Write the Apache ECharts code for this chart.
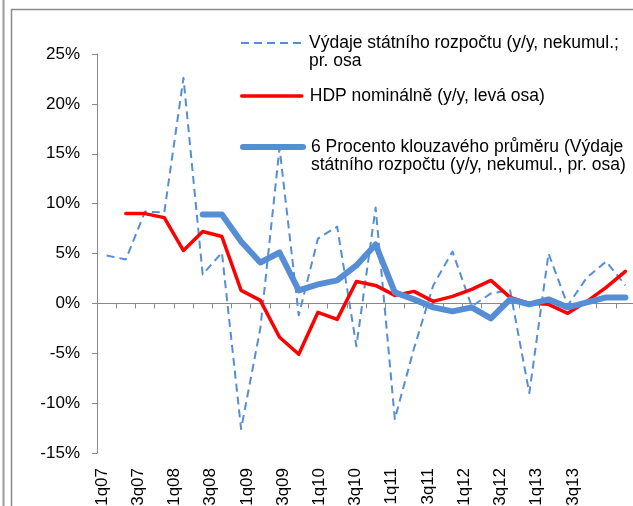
<!DOCTYPE html>
<html>
<head>
<meta charset="utf-8">
<script src="https://cdn.jsdelivr.net/npm/echarts@6.0.0/dist/echarts.min.js"></script>
<style>
  html, body { margin: 0; padding: 0; background: #fff; }
  #chart { width: 633px; height: 506px; }
</style>
</head>
<body>
<div id="chart"></div>
<script>
// quarters 1q07 .. 4q13
const quarters = [
  '1q07', '2q07', '3q07', '4q07', '1q08', '2q08', '3q08', '4q08',
  '1q09', '2q09', '3q09', '4q09', '1q10', '2q10', '3q10', '4q10',
  '1q11', '2q11', '3q11', '4q11', '1q12', '2q12', '3q12', '4q12',
  '1q13', '2q13', '3q13', '4q13'
];

// Výdaje státního rozpočtu, y/y %
const vydaje = [
  4.8, 4.4, 9.2, 9.1, 22.6, 2.9, 5.1, -12.6,
  -2.5, 15.6, -1.2, 6.5, 7.7, -4.3, 9.6, -11.6,
  -4.5, 1.8, 5.2, -0.3, 1.0, 1.3, -9.0, 5.0,
  -0.2, 2.6, 4.2, 1.8
];

// HDP nominálně, y/y %
const hdp = [
  null, 9.0, 9.0, 8.6, 5.3, 7.2, 6.7, 1.3,
  0.3, -3.4, -5.1, -0.9, -1.6, 2.2, 1.8, 0.8,
  1.2, 0.2, 0.7, 1.4, 2.3, 0.6, 0.0, -0.1,
  -1.0, 0.2, 1.6, 3.2
];

// 6-period moving average as drawn
const klouzavy = [
  null, null, null, null, null, 8.9, 8.9, 6.2,
  4.1, 5.1, 1.3, 1.9, 2.3, 3.8, 5.9, 1.1,
  0.4, -0.4, -0.8, -0.4, -1.5, 0.4, -0.1, 0.4,
  -0.4, 0.1, 0.6, 0.6
];

const names = [
  'Výdaje státního rozpočtu (y/y, nekumul.; pr. osa',
  'HDP nominálně (y/y, levá osa)',
  '6 Procento klouzavého průměru (Výdaje státního rozpočtu (y/y, nekumul., pr. osa)'
];
// blank first line keeps the icon level with the first text line
const legendText = [
  ' \nVýdaje státního rozpočtu (y/y, nekumul.;\npr. osa',
  'HDP nominálně (y/y, levá osa)',
  ' \n6 Procento klouzavého průměru (Výdaje\nstátního rozpočtu (y/y, nekumul., pr. osa)'
];

const blue = '#558ED5';
const red = '#FF0000';
const axisGray = '#888888';
const font = 'Arial, "Liberation Sans", sans-serif';

const chart = echarts.init(document.getElementById('chart'));

function makeLegend(i, top, lineStyle) {
  return {
    orient: 'vertical',
    left: 240,
    top: top,
    padding: 0,
    itemWidth: 60,
    itemHeight: 12,
    selectedMode: false,
    formatter: (n) => legendText[names.indexOf(n)],
    itemStyle: { opacity: 0 },
    textStyle: {
      fontFamily: font, fontSize: 17.5, lineHeight: 18, color: '#000',
      padding: [0, 0, 0, 3]
    },
    data: [{ name: names[i], lineStyle: lineStyle }]
  };
}

const option = {
  animation: false,
  backgroundColor: '#fff',
  grid: [
    { left: 97, top: 54, width: 538, height: 399, containLabel: false, outerBoundsMode: 'none' },
    { left: 93, top: 54, width: 507, height: 406, containLabel: false, outerBoundsMode: 'none' }
  ],
  legend: [
    makeLegend(0, 16, { color: blue, width: 2, type: [8, 5] }),
    makeLegend(1, 87, { color: red, width: 3.5, type: 'solid' }),
    makeLegend(2, 120, { color: blue, width: 6, type: 'solid' })
  ],
  xAxis: [
    {
      type: 'category',
      gridIndex: 0,
      data: quarters,
      boundaryGap: true,
      axisLine: { onZero: true, lineStyle: { color: axisGray, width: 1 } },
      axisTick: { show: true, inside: false, length: 5, interval: 0, lineStyle: { color: axisGray } },
      axisLabel: { show: false },
      splitLine: { show: false }
    },
    {
      type: 'category',
      gridIndex: 1,
      data: quarters,
      boundaryGap: true,
      axisLine: { show: false },
      axisTick: { show: false },
      axisLabel: {
        interval: 1, rotate: 90, margin: 8,
        fontFamily: font, fontSize: 17, color: '#000'
      },
      splitLine: { show: false }
    }
  ],
  yAxis: [
    {
      type: 'value',
      gridIndex: 0,
      min: -15,
      max: 25,
      interval: 5,
      axisLine: { show: true, lineStyle: { color: axisGray, width: 1 } },
      axisTick: { show: true, inside: false, length: 5, lineStyle: { color: axisGray } },
      axisLabel: { formatter: '{value}%', margin: 17, fontFamily: font, fontSize: 17, color: '#000' },
      splitLine: { show: false }
    },
    { type: 'value', gridIndex: 1, show: false, min: 0, max: 1 }
  ],
  series: [
    {
      name: names[0],
      type: 'line',
      xAxisIndex: 0, yAxisIndex: 0,
      data: vydaje,
      symbol: 'none',
      lineStyle: { color: blue, width: 2, type: [8, 5], cap: 'butt', join: 'round' },
      itemStyle: { color: blue }
    },
    {
      name: names[1],
      type: 'line',
      xAxisIndex: 0, yAxisIndex: 0,
      data: hdp,
      symbol: 'none',
      lineStyle: { color: red, width: 3.5, cap: 'round', join: 'round' },
      itemStyle: { color: red }
    },
    {
      name: names[2],
      type: 'line',
      xAxisIndex: 0, yAxisIndex: 0,
      data: klouzavy,
      symbol: 'none',
      lineStyle: { color: blue, width: 6, cap: 'round', join: 'round' },
      itemStyle: { color: blue }
    }
  ],
  graphic: [
    { type: 'line', shape: { x1: 3.5, y1: 0, x2: 3.5, y2: 506 }, style: { stroke: '#9a9a9a', lineWidth: 2 } },
    { type: 'line', shape: { x1: 11.5, y1: 9.5, x2: 11.5, y2: 506 }, style: { stroke: '#8a8a8a', lineWidth: 1.5 } },
    { type: 'line', shape: { x1: 11, y1: 9.5, x2: 633, y2: 9.5 }, style: { stroke: '#8a8a8a', lineWidth: 1.5 } }
  ]
};

chart.setOption(option);
</script>
</body>
</html>
